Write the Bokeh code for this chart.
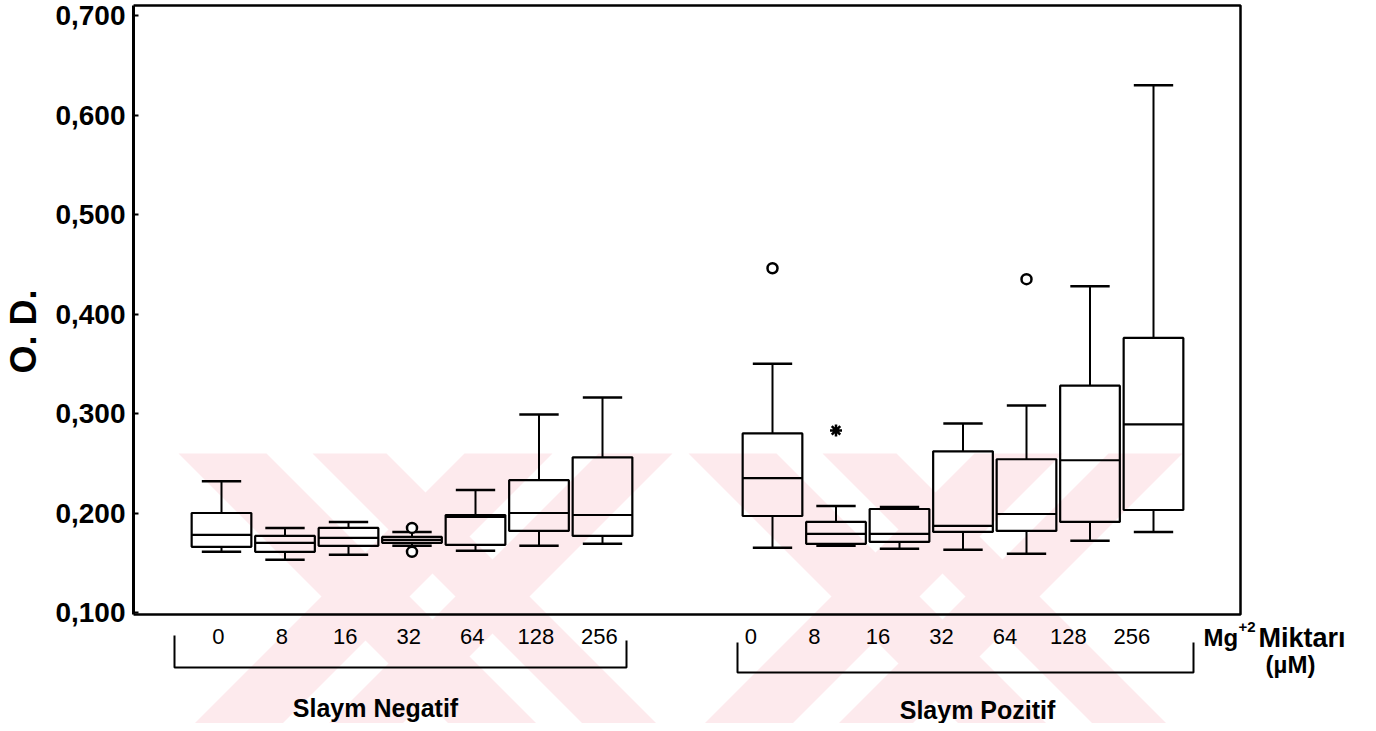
import math
from bokeh.plotting import figure
from bokeh.layouts import row
from bokeh.models import Range1d, FixedTicker, BoxAnnotation, ColumnDataSource
from bokeh.core.properties import value
from bokeh.embed import file_html
from bokeh.resources import INLINE

# ---------------- data ----------------
concentrations = ["0", "8", "16", "32", "64", "128", "256"]
groups = ["Slaym Negatif", "Slaym Pozitif"]

neg_low = [0.161, 0.153, 0.158, 0.167, 0.162, 0.167, 0.169]
neg_q1 = [0.166, 0.161, 0.167, 0.170, 0.168, 0.182, 0.177]
neg_med = [0.178, 0.170, 0.175, 0.173, 0.196, 0.200, 0.198]
neg_q3 = [0.200, 0.177, 0.185, 0.176, 0.198, 0.233, 0.256]
neg_high = [0.232, 0.185, 0.191, 0.181, 0.223, 0.299, 0.316]

pos_low = [0.165, 0.167, 0.164, 0.163, 0.159, 0.172, 0.181]
pos_q1 = [0.197, 0.169, 0.171, 0.181, 0.182, 0.191, 0.203]
pos_med = [0.235, 0.179, 0.179, 0.187, 0.199, 0.253, 0.289]
pos_q3 = [0.280, 0.191, 0.204, 0.262, 0.254, 0.328, 0.376]
pos_high = [0.350, 0.207, 0.206, 0.290, 0.308, 0.428, 0.630]

# outliers (circles) and extremes (stars)
out_group = [0, 0, 1, 1]
out_conc = [3, 3, 0, 4]
out_value = [0.185, 0.161, 0.446, 0.435]
ext_group = [1]
ext_conc = [1]
ext_value = [0.283]

y_ticks = [0.1, 0.2, 0.3, 0.4, 0.5, 0.6, 0.7]
y_tick_labels = ["0,100", "0,200", "0,300", "0,400", "0,500", "0,600", "0,700"]
y_title = "O. D."
x_title = ["Mg", "+2", "Miktarı", "(µM)"]

# ---------------- layout helpers (page pixels -> data units) ----------------
LEFT_W = 48                      # narrow strip holding the rotated y title
X0, SLOT = 221.0, 63.5
def ux(px):
    return (px - X0) / SLOT
def uy(py):
    return 0.1 + (612.0 - py) / 995.0

W, H = 1368, 723
GROUP_OFFSET = [0.0, ux(772)]
BOX_W = 0.94
CAP_W = 0.62
LABEL_SHIFT = [-0.05, -0.34]

FONT = value("Liberation Sans")

# ---- title strip ----
t = figure(width=LEFT_W, height=H, x_range=Range1d(0, LEFT_W), y_range=Range1d(H, 0),
           x_axis_location=None, y_axis_location=None, toolbar_location=None,
           output_backend="svg", min_border=0)
t.grid.visible = False
t.outline_line_color = None
t.text(x=[23], y=[331], text=[y_title], angle=math.pi / 2, text_font=FONT,
       text_font_style="bold", text_font_size="36px", text_align="center",
       text_baseline="middle", text_color="black")

# ---- main chart ----
p = figure(width=W - LEFT_W, height=H,
           x_range=Range1d(ux(133), ux(W)), y_range=Range1d(uy(H), uy(0)),
           x_axis_location=None, toolbar_location=None, output_backend="svg",
           min_border_left=133 - LEFT_W, min_border_right=0, min_border_top=0,
           min_border_bottom=0)
p.grid.visible = False
p.outline_line_color = None
p.background_fill_color = "white"

# faint pink watermark (two striped X shapes of the scanned page)
PINK = "#fdeaed"
wm_xs, wm_ys = [], []
top_py, bot_py, mid_py = 453.0, 740.0, 596.0
for cx in (425.0, 935.0):
    for sgn in (1, -1):          # "\" arm and "/" arm
        for a, b in ((-104, -16), (30, 104)):
            xt = cx - sgn * (mid_py - top_py)
            xb = cx + sgn * (bot_py - mid_py)
            wm_xs.append([ux(xt + a), ux(xt + b), ux(xb + b), ux(xb + a)])
            wm_ys.append([uy(top_py), uy(top_py), uy(bot_py), uy(bot_py)])
p.patches(wm_xs, wm_ys, fill_color=PINK, line_color=None, level="underlay")

# frame
frame = BoxAnnotation(left=ux(133), right=ux(1240), bottom=uy(614), top=uy(5),
                      fill_alpha=0, line_color="black", line_alpha=1, line_width=2.5,
                      level="overlay")
p.add_layout(frame)

ax = p.yaxis[0]
ax.ticker = FixedTicker(ticks=y_ticks)
ax.major_label_overrides = {tk: lb for tk, lb in zip(y_ticks, y_tick_labels)}
ax.bounds = (uy(614), uy(5))
ax.axis_line_color = "black"
ax.axis_line_width = 3
ax.major_tick_in = 5
ax.major_tick_out = 0
ax.major_tick_line_width = 2
ax.minor_tick_line_color = None
ax.major_label_text_font = "Liberation Sans"
ax.major_label_text_font_style = "bold"
ax.major_label_text_font_size = "28px"
ax.major_label_text_color = "black"
ax.major_label_standoff = 8

# ---------------- boxes ----------------
xs, lo, q1, md, q3, hi = [], [], [], [], [], []
for g, (a, b, c, d, e) in enumerate([(neg_low, neg_q1, neg_med, neg_q3, neg_high),
                                     (pos_low, pos_q1, pos_med, pos_q3, pos_high)]):
    for i in range(len(concentrations)):
        xs.append(GROUP_OFFSET[g] + i)
        lo.append(a[i]); q1.append(b[i]); md.append(c[i]); q3.append(d[i]); hi.append(e[i])

src = ColumnDataSource(dict(
    x=xs, low=lo, q1=q1, med=md, q3=q3, high=hi,
    bl=[x - BOX_W / 2 for x in xs], br=[x + BOX_W / 2 for x in xs],
    cl=[x - CAP_W / 2 for x in xs], cr=[x + CAP_W / 2 for x in xs]))

p.segment(x0="x", y0="q3", x1="x", y1="high", line_color="black", line_width=2, source=src)
p.segment(x0="x", y0="q1", x1="x", y1="low", line_color="black", line_width=2, source=src)
p.segment(x0="cl", y0="high", x1="cr", y1="high", line_color="black", line_width=2.5, source=src)
p.segment(x0="cl", y0="low", x1="cr", y1="low", line_color="black", line_width=2.5, source=src)
p.vbar(x="x", width=BOX_W, bottom="q1", top="q3", fill_color=None,
       line_color="black", line_width=2.2, source=src)
p.segment(x0="bl", y0="med", x1="br", y1="med", line_color="black", line_width=2.2, source=src)

# outliers
ox = [GROUP_OFFSET[g] + c for g, c in zip(out_group, out_conc)]
p.scatter(ox, out_value, marker="circle", size=10, fill_color="white",
          line_color="black", line_width=2.5)
ex = [GROUP_OFFSET[g] + c for g, c in zip(ext_group, ext_conc)]
p.scatter(ex, ext_value, marker="asterisk", size=12, line_color="black", line_width=2.5)

# ---------------- category labels ----------------
lx, lt = [], []
for g in range(2):
    for i, c in enumerate(concentrations):
        lx.append(GROUP_OFFSET[g] + i + LABEL_SHIFT[g])
        lt.append(c)
p.text(x=lx, y=[uy(636)] * len(lx), text=lt, text_font=FONT, text_font_size="22px",
       text_align="center", text_baseline="middle", text_color="black")

# brackets
br_xs = [[ux(174), ux(174), ux(626), ux(626)], [ux(737), ux(737), ux(1193), ux(1193)]]
br_ys = [[uy(635), uy(667), uy(667), uy(640)], [uy(642), uy(672), uy(672), uy(642)]]
p.multi_line(br_xs, br_ys, line_color="black", line_width=2)

p.text(x=[ux(375), ux(977)], y=[uy(707), uy(709)], text=groups, text_font=FONT,
       text_font_style="bold", text_font_size="25px", text_align="center",
       text_baseline="middle", text_color="black")

# x title
p.text(x=[ux(1203)], y=[uy(637)], text=[x_title[0]], text_font=FONT, text_font_style="bold",
       text_font_size="24px", text_align="left", text_baseline="middle", text_color="black")
p.text(x=[ux(1238)], y=[uy(626)], text=[x_title[1]], text_font=FONT, text_font_style="bold",
       text_font_size="15px", text_align="left", text_baseline="middle", text_color="black")
p.text(x=[ux(1258)], y=[uy(637)], text=[x_title[2]], text_font=FONT, text_font_style="bold",
       text_font_size="27px", text_align="left", text_baseline="middle", text_color="black")
p.text(x=[ux(1290)], y=[uy(664)], text=[x_title[3]], text_font=FONT, text_font_style="bold",
       text_font_size="24px", text_align="center", text_baseline="middle", text_color="black")

layout = row(t, p, spacing=0)
open("out.html", "w").write(file_html(layout, INLINE))
